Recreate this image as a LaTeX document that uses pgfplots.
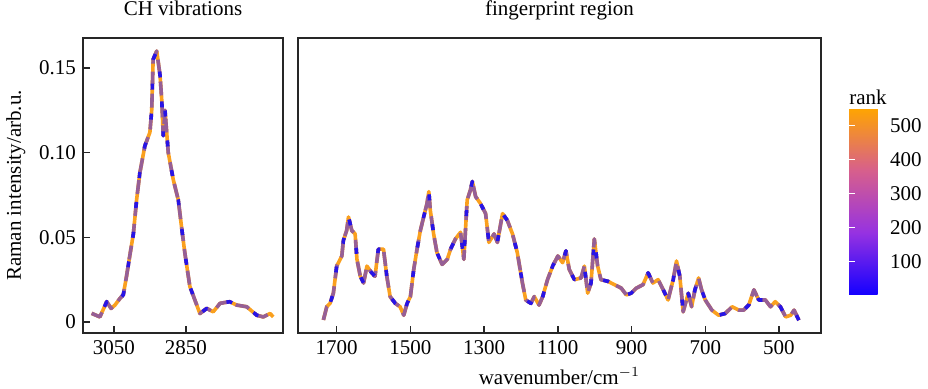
\documentclass[border=0pt]{standalone}
\usepackage{fontspec}
\setmainfont{Liberation Serif}
\usepackage{pgfplots}
\pgfplotsset{compat=1.18}
\usepackage{pgfplotstable}
\usetikzlibrary{calc}

\definecolor{rkorange}{RGB}{250,160,30}
\definecolor{rkmauve}{RGB}{150,95,150}
\definecolor{rkblue}{RGB}{40,20,230}

\pgfplotstableread{
x y
3112 0.0051
3089 0.003
3070 0.012
3058 0.008
3047 0.010
3033 0.014
3024 0.016
3015 0.027
3006 0.039
2996 0.052
2987 0.072
2978 0.088
2964 0.104
2950 0.112
2945 0.125
2941 0.155
2931 0.160
2922 0.146
2917 0.131
2913 0.110
2908 0.125
2899 0.100
2885 0.084
2871 0.072
2862 0.056
2853 0.041
2839 0.021
2825 0.013
2811 0.005
2792 0.008
2774 0.006
2755 0.011
2728 0.012
2709 0.010
2681 0.009
2653 0.004
2635 0.003
2616 0.005
2607 0.003
}\ch

\pgfplotstableread{
x y
1736 0.0012
1727 0.009
1718 0.011
1709 0.017
1700 0.033
1686 0.039
1682 0.048
1673 0.054
1668 0.062
1659 0.054
1650 0.052
1645 0.037
1636 0.027
1627 0.023
1618 0.033
1605 0.029
1596 0.027
1587 0.043
1573 0.043
1564 0.027
1555 0.015
1541 0.011
1528 0.009
1518 0.004
1509 0.011
1500 0.015
1491 0.031
1482 0.043
1473 0.054
1464 0.062
1455 0.070
1450 0.077
1446 0.066
1437 0.052
1428 0.041
1414 0.034
1400 0.037
1391 0.043
1378 0.049
1364 0.053
1355 0.037
1346 0.072
1337 0.078
1332 0.083
1323 0.074
1310 0.070
1296 0.064
1287 0.047
1273 0.052
1264 0.047
1250 0.064
1237 0.060
1223 0.052
1210 0.041
1196 0.023
1187 0.013
1173 0.011
1164 0.015
1151 0.010
1141 0.015
1128 0.025
1114 0.033
1100 0.039
1087 0.035
1078 0.042
1069 0.031
1055 0.025
1037 0.026
1028 0.033
1019 0.017
1010 0.023
1001 0.049
992 0.033
983 0.025
964 0.024
946 0.022
928 0.020
914 0.016
901 0.017
887 0.020
869 0.022
855 0.029
842 0.023
828 0.025
814 0.019
801 0.013
787 0.025
778 0.036
769 0.027
760 0.006
746 0.017
737 0.009
728 0.019
718 0.026
710 0.019
700 0.013
682 0.007
664 0.004
646 0.005
627 0.009
609 0.007
596 0.007
582 0.010
568 0.019
555 0.013
537 0.013
523 0.009
510 0.012
496 0.009
482 0.003
468 0.004
459 0.007
446 0.001
}\fp

\pgfplotsset{
  colormap={rankmap}{rgb255(0)=(20,0,255) rgb255(1)=(150,50,225) rgb255(2)=(215,95,140) rgb255(3)=(255,165,0)},
  every tick label/.append style={font=\fontsize{10.5}{12}\selectfont},
  /pgf/number format/assume math mode=true,
  /pgf/number format/1000 sep={},
  spec/.style={
    scale only axis, height=147.5pt,
    ymin=-0.0065, ymax=0.1677, x dir=reverse,
    axis line style={line width=0.8pt, black!85},
    tick align=inside, xtick pos=bottom, ytick pos=left,
    major tick length=3.5pt,
    tick style={black!85, line width=0.7pt},
    title style={font=\fontsize{10.5}{12}\selectfont, at={(0.5,1)}, anchor=base, yshift=5pt, inner sep=0pt},
    label style={font=\fontsize{10.5}{12}\selectfont},
  },
  orl/.style={draw=rkorange, line width=1.8pt, line join=round},
  mal/.style={draw=rkmauve, line width=1.8pt, line join=round, dash pattern=on 7pt off 4pt},
  bll/.style={draw=rkblue, line width=1.8pt, line join=round, dash pattern=on 3pt off 12pt, dash phase=5pt},
}

\begin{document}
\begin{tikzpicture}
\begin{axis}[spec, at={(0,0)}, anchor=south west, width=100pt,
  xmin=2580, xmax=3136,
  xtick={3050,2850},
  ytick={0,0.05,0.10,0.15},
  yticklabels={0,0.05,0.10,0.15},
  title={CH vibrations},
  ylabel={Raman intensity/arb.u.},
]
\addplot[orl] table {\ch};
\addplot[mal] table {\ch};
\addplot[bll] table {\ch};
\end{axis}

\begin{axis}[spec, at={(107.5pt,0)}, anchor=south west, width=261.5pt,
  xmin=386, xmax=1805,
  xtick={1700,1500,1300,1100,900,700,500},
  ytick=\empty,
  title={fingerprint region},
  xlabel={wavenumber/cm$^{-1}$},
  colorbar, colormap name=rankmap,
  point meta min=1, point meta max=552,
  colorbar style={
    at={($(parent axis.south east)+(5.5pt,19pt)$)}, anchor=south west,
    scale only axis,
    width=19pt, height=93.5pt,
    ytick={100,200,300,400,500},
    ytick pos=both,
    yticklabel pos=right,
    axis line style={draw=none},
    tick align=inside, major tick length=3pt,
    tick style={white, line width=0.6pt},
    yticklabel style={xshift=-2pt},
    title={rank},
    title style={font=\fontsize{10.5}{12}\selectfont, at={(0.5,1)}, anchor=base, yshift=-4.5pt, inner sep=0pt},
  },
]
\addplot[orl] table {\fp};
\addplot[mal] table {\fp};
\addplot[bll] table {\fp};
\end{axis}
\pgfresetboundingbox
\path[use as bounding box] (-41.5pt,-28pt) rectangle (422.5pt,166.5pt);
\end{tikzpicture}
\end{document}
